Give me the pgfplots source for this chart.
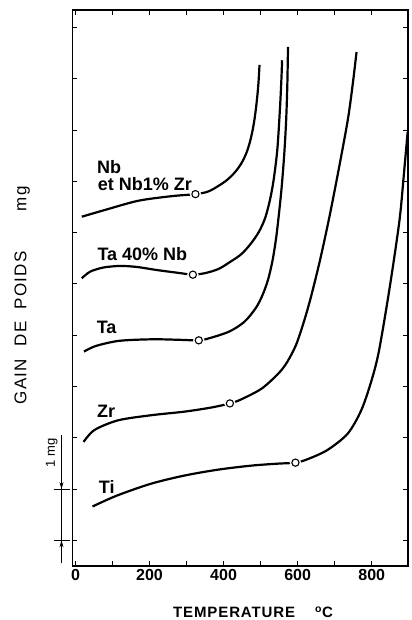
\documentclass[border=0pt]{standalone}
\usepackage{pgfplots}
\pgfplotsset{compat=1.18}
\usepackage{fontspec}
\setmainfont{Liberation Sans}
\newfontfamily\spaced[LetterSpace=8]{Liberation Sans}
\newfontfamily\spacedb[LetterSpace=6]{Liberation Sans Bold}
\usetikzlibrary{arrows.meta}

\begin{document}
\begin{tikzpicture}
\begin{axis}[
    name=ax,
    scale only axis,
    width=335.5pt, height=556pt,
    xmin=-8, xmax=898,
    ymin=0, ymax=10.84,
    xtick={0,100,...,800},
    xticklabels={0,,200,,400,,600,,800},
    ytick={0.5,1.5,...,10.5},
    yticklabels={},
    tick align=inside,
    major tick length=5pt,
    tick style={black, line width=1pt},
    axis line style={line width=1.4pt},
    xticklabel style={font=\bfseries\fontsize{16}{16}\selectfont},
    xlabel={\spacedb TEMPERATURE\hspace{20pt}\textsuperscript{o}C},
    xlabel style={at={(axis description cs:0.538,-0.083)}, anchor=center,
        font=\fontsize{15}{15}\selectfont},
    ylabel={\spaced GAIN\ \ DE\ \ POIDS\hspace{40pt}mg},
    ylabel style={at={(axis description cs:-0.15,0.487)}, anchor=center,
        font=\fontsize{17}{17}\selectfont},
    clip=false,
]
% Nb et Nb1%Zr
\addplot[black, line width=2.2pt, smooth] coordinates {
 (17,6.81) (79,6.94) (169,7.12) (259,7.21) (324,7.25) (358,7.30) (386,7.41)
 (410,7.53) (431,7.68) (448,7.85) (462,8.06) (473,8.32) (482,8.64) (489,9.02)
 (494,9.40) (497,9.77)};
% Ta 40% Nb
\addplot[black, line width=2.2pt, smooth] coordinates {
 (17,5.61) (40,5.74) (76,5.82) (121,5.85) (166,5.83) (220,5.77) (283,5.71)
 (317,5.68) (350,5.71) (386,5.79) (418,5.93) (448,6.08) (473,6.28) (495,6.51)
 (512,6.78) (525,7.13) (535,7.52) (545,8.11) (552,8.89) (556,9.47) (558,9.86)};
% Ta
\addplot[black, line width=2.2pt, smooth] coordinates {
 (23,4.18) (55,4.29) (118,4.39) (208,4.42) (280,4.41) (333,4.40) (361,4.44)
 (415,4.57) (456,4.76) (487,5.03) (505,5.28) (520,5.58) (532,5.95) (542,6.40)
 (550,6.90) (557,7.40) (564,8.05) (569,8.70) (572,9.35) (574,10.12)};
% Zr
\addplot[black, line width=2.2pt, smooth] coordinates {
 (22,2.42) (51,2.65) (115,2.84) (205,2.94) (295,3.01) (367,3.09) (417,3.17)
 (448,3.25) (503,3.46) (549,3.76) (572,3.98) (595,4.30) (615,4.72) (635,5.22)
 (660,5.95) (685,6.78) (710,7.70) (735,8.68) (748,9.35) (759,10.02)};
% Ti
\addplot[black, line width=2.2pt, smooth] coordinates {
 (46,1.16) (111,1.37) (202,1.60) (292,1.76) (382,1.875) (472,1.955) (545,1.995)
 (594,2.015) (626,2.08) (680,2.26) (735,2.58) (772,3.04) (800,3.63) (820,4.21)
 (849,5.45) (875,6.74) (887,7.65) (897,8.46)};
% open circles
\addplot[only marks, mark=*, mark size=5.5pt, mark options={draw=white, fill=white}]
 coordinates {(324,7.25) (317,5.68) (333,4.40) (417,3.17) (594,2.015)};
\addplot[only marks, mark=*, mark size=3.6pt, mark options={draw=black, fill=white, line width=1.1pt}]
 coordinates {(324,7.25) (317,5.68) (333,4.40) (417,3.17) (594,2.015)};

\begin{scope}[font=\bfseries\fontsize{18}{18}\selectfont]
\node[anchor=base west, inner sep=0] at (axis cs:58,7.66) {Nb};
\node[anchor=base west, inner sep=0] at (axis cs:60,7.33) {et Nb1\% Zr};
\node[anchor=base west, inner sep=0] at (axis cs:59,5.96) {Ta 40\% Nb};
\node[anchor=base west, inner sep=0] at (axis cs:57,4.54) {Ta};
\node[anchor=base west, inner sep=0] at (axis cs:58,2.90) {Zr};
\node[anchor=base west, inner sep=0] at (axis cs:63,1.42) {Ti};
\end{scope}

% 1 mg scale
\draw[line width=0.8pt] (axis cs:-37.7,2.55) -- (axis cs:-37.7,0.12);
\draw[line width=0.8pt, -{Stealth[length=7pt,width=4pt]}] (axis cs:-37.7,2.0) -- (axis cs:-37.7,1.5);
\draw[line width=0.8pt, -{Stealth[length=7pt,width=4pt]}] (axis cs:-37.7,0.05) -- (axis cs:-37.7,0.5);
\draw[line width=0.8pt] (axis cs:-59,1.5) -- (axis cs:-16,1.5);
\draw[line width=0.8pt] (axis cs:-59,0.5) -- (axis cs:-16,0.5);
\node[rotate=90, font=\fontsize{13}{13}\selectfont] at (axis cs:-64,2.2) {1 mg};
\end{axis}
\pgfresetboundingbox
\path[use as bounding box] ([shift={(-72.5pt,-54pt)}]ax.south west)
    rectangle ([shift={(3pt,10pt)}]ax.north east);
\end{tikzpicture}
\end{document}
